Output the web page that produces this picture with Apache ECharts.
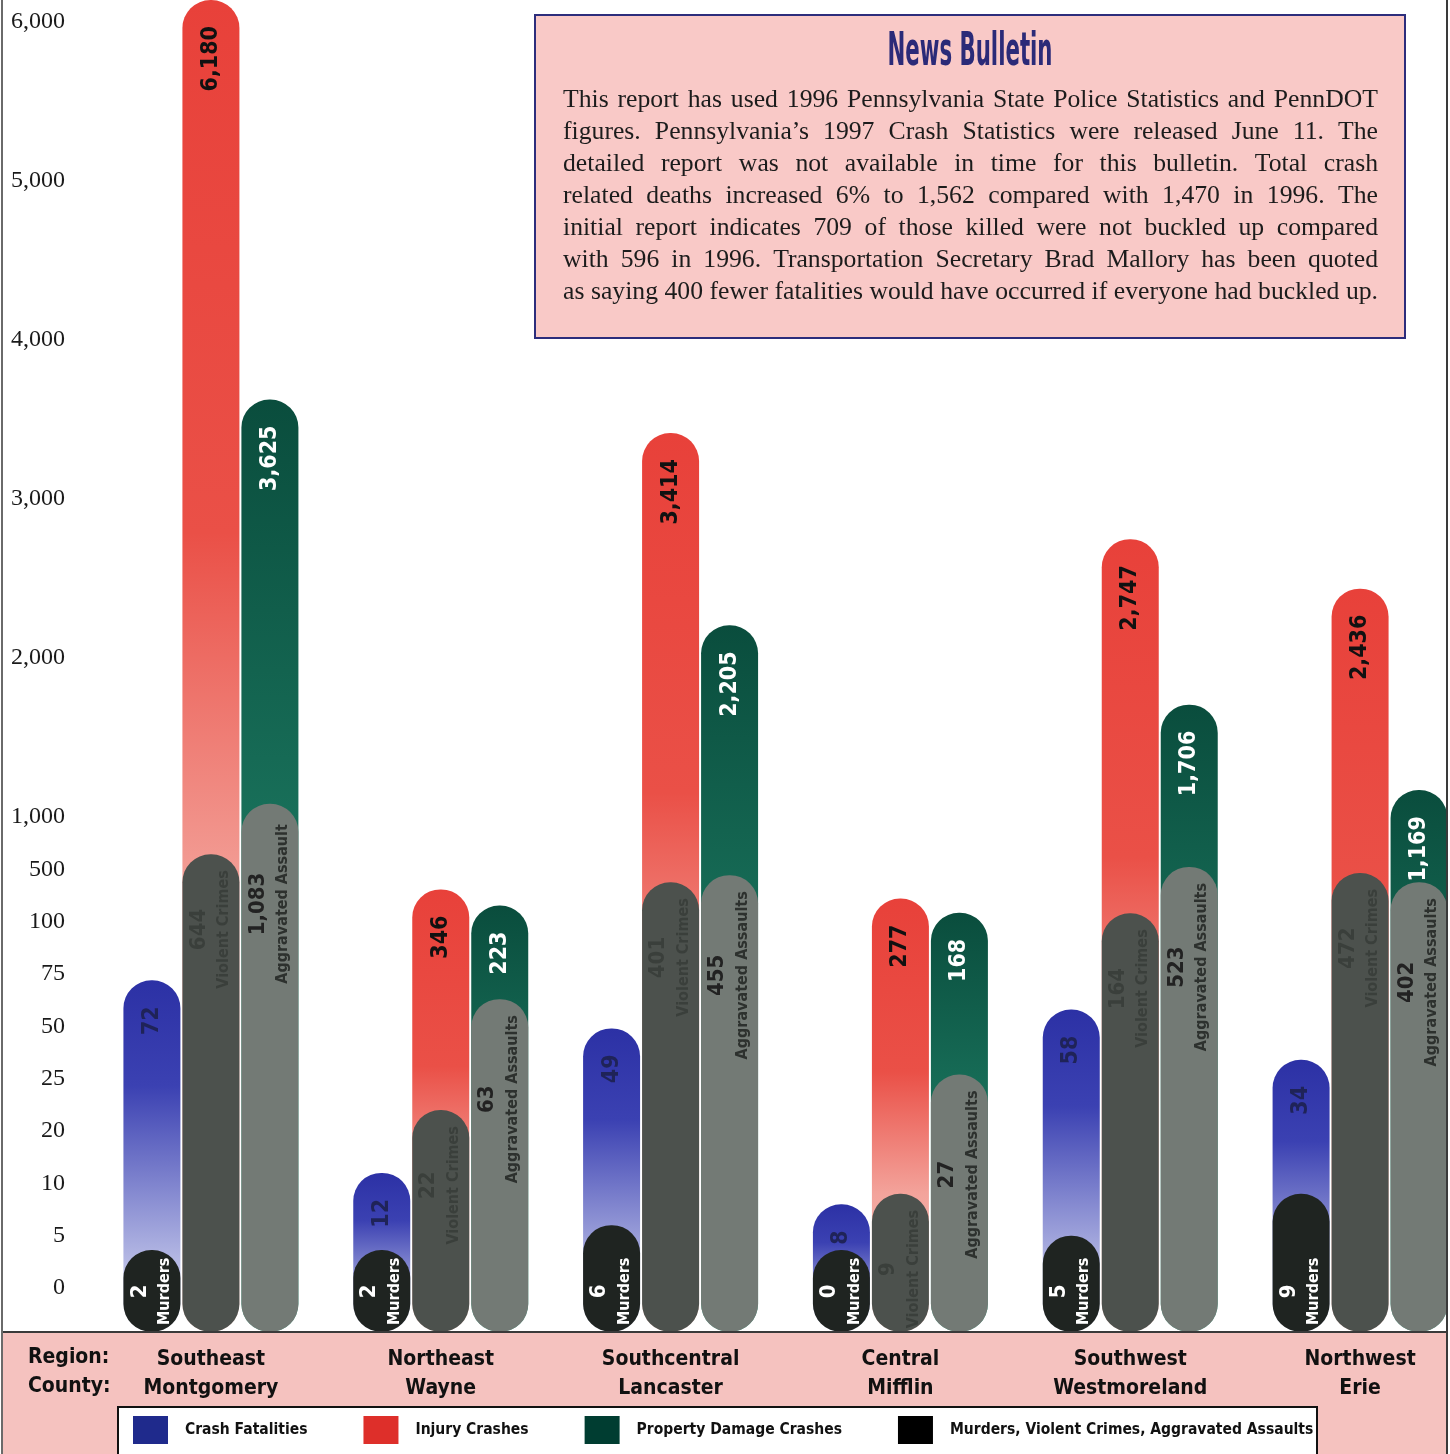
<!DOCTYPE html>
<html>
<head>
<meta charset="utf-8">
<title>Crash and crime statistics by region</title>
<script src="https://cdn.jsdelivr.net/npm/echarts@6.0.0/dist/echarts.min.js"></script>
<style>
  html, body { margin: 0; padding: 0; background: #fff; }
  #chart { width: 1450px; height: 1454px; }
</style>
</head>
<body>
<div id="chart"></div>
<script>
var regions = ['Southeast', 'Northeast', 'Southcentral', 'Central', 'Southwest', 'Northwest'];
var counties = ['Montgomery', 'Wayne', 'Lancaster', 'Mifflin', 'Westmoreland', 'Erie'];

var crashFatalities = [72, 12, 49, 8, 58, 34];
var injuryCrashes = [6180, 346, 3414, 277, 2747, 2436];
var propertyDamage = [3625, 223, 2205, 168, 1706, 1169];
var murders = [2, 2, 6, 0, 5, 9];
var violentCrimes = [644, 22, 401, 9, 164, 472];
var aggravatedAssaults = [1083, 63, 455, 27, 523, 402];

// the printed axis is broken: even steps up to 1,000, then linear in thousands
var tickValues = [0, 5, 10, 20, 25, 50, 75, 100, 500, 1000, 2000, 3000, 4000, 5000, 6000];
var tickLabels = ['0', '5', '10', '20', '25', '50', '75', '100', '500', '1,000', '2,000', '3,000', '4,000', '5,000', '6,000'];

var bulletinTitle = 'News Bulletin';
var bulletinLines = [
  'This report has used 1996 Pennsylvania State Police Statistics and PennDOT',
  'figures.  Pennsylvania\u2019s 1997 Crash Statistics were released June 11.  The',
  'detailed report was not available in time for this bulletin.  Total crash',
  'related deaths increased 6% to 1,562 compared with 1,470 in 1996.  The',
  'initial report indicates 709 of those killed were not buckled up compared',
  'with 596 in 1996.  Transportation Secretary Brad Mallory has been quoted',
  'as saying 400 fewer fatalities would have occurred if everyone had buckled up.'
];

var COND = '"Liberation Sans Narrow", "DejaVu Sans Condensed", "Arial Narrow", sans-serif';
var SERIF = '"Liberation Serif", "DejaVu Serif", serif';

var BASE = 0.84;             // space below the 0 tick, in axis units
var UPPER = 159 / 52.33;     // units per 1,000 above the break
var lowerBreaks = tickValues.slice(0, 10);

function toAxis(v) {
  if (v >= 1000) return BASE + 9 + (v - 1000) / 1000 * UPPER;
  for (var i = 1; i < lowerBreaks.length; i++) {
    if (v <= lowerBreaks[i]) {
      return BASE + (i - 1) + (v - lowerBreaks[i - 1]) / (lowerBreaks[i] - lowerBreaks[i - 1]);
    }
  }
}
var tickPos = tickValues.map(toAxis);

function fmt(v) { return v.toLocaleString('en-US'); }

var ctx = document.createElement('canvas').getContext('2d');

function grad(stops) {
  return new echarts.graphic.LinearGradient(0, 0, 0, 1, stops.map(function (s) {
    return { offset: s[0], color: s[1] };
  }));
}

function topLabel(values, color) {
  return {
    show: true, position: 'insideTop', rotate: 90, align: 'right', verticalAlign: 'middle',
    distance: 26, color: color, fontFamily: COND, fontWeight: 'bold', fontSize: 23,
    formatter: function (p) { return fmt(values[p.dataIndex]); }
  };
}

// two centred lines (number, caption) placed from the top or the bottom of the pill
function overlayLabel(values, caption, numColor, textColor, pos, gap) {
  ctx.font = 'bold 16px ' + COND;
  var half = ctx.measureText(typeof caption === 'function' ? caption(1) : caption).width / 2;
  return {
    show: true, position: pos, rotate: 90, align: 'center',
    verticalAlign: 'middle', distance: gap + half,
    formatter: function (p) {
      var c = typeof caption === 'function' ? caption(p.dataIndex) : caption;
      return '{n|' + fmt(values[p.dataIndex]) + '}\n{t|' + c + '}';
    },
    rich: {
      n: { fontFamily: COND, fontWeight: 'bold', fontSize: 22, lineHeight: 26, color: numColor },
      t: { fontFamily: COND, fontWeight: 'bold', fontSize: 16, lineHeight: 24, color: textColor }
    }
  };
}

var GROUP = 'Murders, Violent Crimes, Aggravated Assaults';
var common = { type: 'bar', barWidth: 57, barGap: '3.5%', emphasis: { disabled: true } };

function bar(name, axis, values, color, label, extra) {
  var s = Object.assign({}, common, {
    name: name,
    xAxisIndex: axis,
    data: values.map(function (v) { return toAxis(v); }),
    itemStyle: { color: color, borderRadius: 28 },
    label: label
  });
  return Object.assign(s, extra || {});
}

// justified bulletin text, word by word
var TEXT_LEFT = 563, TEXT_WIDTH = 815;
var bodySize = 26;
ctx.font = bodySize + 'px ' + SERIF;
var widest = 0;
bulletinLines.forEach(function (l) {
  widest = Math.max(widest, ctx.measureText(l.replace(/\s+/g, ' ')).width);
});
if (widest > TEXT_WIDTH) bodySize = Math.floor(bodySize * TEXT_WIDTH / widest * 10) / 10;
ctx.font = bodySize + 'px ' + SERIF;

var bulletinText = [];
bulletinLines.forEach(function (line, li) {
  var words = line.split(/\s+/);
  var ws = words.map(function (w) { return ctx.measureText(w).width; });
  var sum = ws.reduce(function (a, b) { return a + b; }, 0);
  var gap = (TEXT_WIDTH - sum) / (words.length - 1);
  var x = TEXT_LEFT;
  words.forEach(function (w, i) {
    bulletinText.push({
      type: 'text', x: x, y: 100 + li * 32, z: 12,
      style: { text: w, font: bodySize + 'px ' + SERIF, fill: '#1c1c1c', verticalAlign: 'middle' }
    });
    x += ws[i] + gap;
  });
});

var titleFont = 'bold 46px ' + COND;
ctx.font = titleFont;
var titleScale = 165 / ctx.measureText(bulletinTitle).width;

var chart = echarts.init(document.getElementById('chart'));
chart.setOption({
  animation: false,
  backgroundColor: '#fff',
  grid: { left: 96, width: 1379, top: 0, bottom: 122, outerBoundsMode: 'none' },
  xAxis: [{
    type: 'category',
    data: regions.map(function (r, i) { return r + '\n' + counties[i]; }),
    axisLine: { show: false },
    axisTick: { show: false },
    axisLabel: {
      interval: 0, margin: 13, color: '#111', fontFamily: COND, fontWeight: 'bold',
      fontSize: 21, lineHeight: 29
    }
  }, {
    type: 'category',
    data: regions,
    show: false
  }],
  yAxis: {
    type: 'value',
    min: 0,
    max: 25.45,
    axisLine: { show: false },
    axisTick: { show: false },
    splitLine: { show: false },
    axisLabel: {
      customValues: tickPos,
      margin: 31,
      color: '#1a1a1a',
      fontFamily: SERIF,
      fontSize: 24,
      formatter: function (val) {
        for (var i = 0; i < tickPos.length; i++) {
          if (Math.abs(tickPos[i] - val) < 1e-6) return tickLabels[i];
        }
        return '';
      }
    }
  },
  legend: {
    left: 128,
    top: 1411,
    width: 1300,
    itemWidth: 35,
    itemHeight: 28,
    itemGap: 56,
    icon: 'rect',
    selectedMode: false,
    textStyle: { fontFamily: COND, fontWeight: 'bold', fontSize: 15.5, color: '#111', padding: [0, 0, 0, 12] },
    data: [
      { name: 'Crash Fatalities', itemStyle: { color: '#1f2a8c' } },
      { name: 'Injury Crashes', itemStyle: { color: '#de2f2a' } },
      { name: 'Property Damage Crashes', itemStyle: { color: '#003d31' } },
      { name: GROUP, itemStyle: { color: '#000' } }
    ]
  },
  series: [
    bar('Crash Fatalities', 0, crashFatalities,
      grad([[0, '#2c31a5'], [0.3, '#3b41b2'], [0.75, '#a9addf'], [1, '#e6e8f8']]),
      topLabel(crashFatalities, '#1f2358')),
    bar('Injury Crashes', 0, injuryCrashes,
      grad([[0, '#e8413a'], [0.4, '#ea5047'], [0.68, '#f3a39b'], [1, '#f8cfc9']]),
      topLabel(injuryCrashes, '#111')),
    bar('Property Damage Crashes', 0, propertyDamage,
      grad([[0, '#0a4d3d'], [0.45, '#186f59'], [1, '#4aa88d']]),
      topLabel(propertyDamage, '#fff')),
    bar(GROUP, 1, murders, '#1f2421',
      overlayLabel(murders, 'Murders', '#fff', '#fff', 'insideBottom', 7), { barMinHeight: 82 }),
    bar(GROUP, 1, violentCrimes, '#4c514d',
      overlayLabel(violentCrimes, 'Violent Crimes', '#3a3f3b', '#3a3f3b', 'insideTop', 16)),
    bar(GROUP, 1, aggravatedAssaults, '#737a75',
      overlayLabel(aggravatedAssaults, function (i) {
        return i === 0 ? 'Aggravated Assault' : 'Aggravated Assaults';
      }, '#222', '#2d312e', 'insideTop', 16))
  ],
  graphic: [
    // pink band under the plot
    { type: 'rect', z: -1, shape: { x: 3, y: 1333, width: 1444, height: 121 }, style: { fill: '#f5c2bf' } },
    { type: 'line', z: 5, shape: { x1: 2, y1: 1332, x2: 1447, y2: 1332 }, style: { stroke: '#3a3a3a', lineWidth: 2 } },
    { type: 'line', z: 5, shape: { x1: 2, y1: 0, x2: 2, y2: 1454 }, style: { stroke: '#6a6a6a', lineWidth: 2 } },
    { type: 'line', z: 5, shape: { x1: 1447, y1: 0, x2: 1447, y2: 1454 }, style: { stroke: '#3a3a3a', lineWidth: 2 } },
    { type: 'text', x: 28, y: 1358, style: { text: 'Region:', font: 'bold 21px ' + COND, fill: '#111', verticalAlign: 'middle' } },
    { type: 'text', x: 28, y: 1387, style: { text: 'County:', font: 'bold 21px ' + COND, fill: '#111', verticalAlign: 'middle' } },
    // legend box
    { type: 'rect', z: 0, shape: { x: 118, y: 1407, width: 1199, height: 60 }, style: { fill: '#fff', stroke: '#111', lineWidth: 2 } },
    // bulletin
    { type: 'rect', z: 10, shape: { x: 535, y: 15, width: 870, height: 323 }, style: { fill: '#f9c9c7', stroke: '#2d2d7c', lineWidth: 2 } },
    { type: 'text', z: 12, x: 970, y: 53, scaleX: titleScale, style: { text: bulletinTitle, font: titleFont, fill: '#2b2a78', align: 'center', verticalAlign: 'middle' } }
  ].concat(bulletinText)
});
</script>
</body>
</html>
